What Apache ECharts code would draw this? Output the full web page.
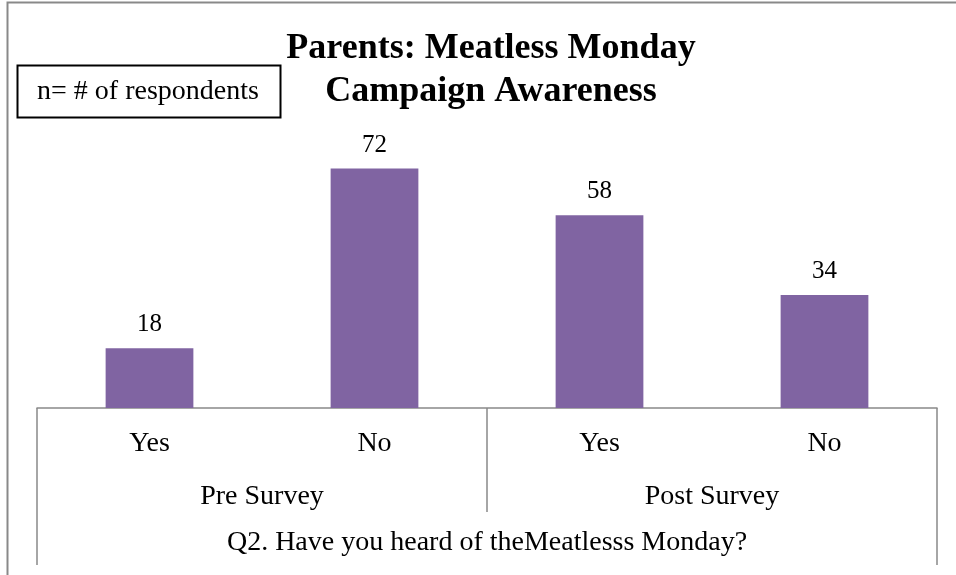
<!DOCTYPE html>
<html><head><meta charset="utf-8">
<script src="https://cdn.jsdelivr.net/npm/echarts@6/dist/echarts.min.js"></script>
<style>html,body{margin:0;padding:0;background:#fff}#c{width:956px;height:575px}</style>
</head><body><div id="c"></div>
<script>
const categories = ['Yes', 'No', 'Yes', 'No'];
const groups = ['Pre Survey', 'Post Survey'];
const values = [18, 72, 58, 34];
const axisTitle = ['Q2. Have you heard of theMeatlesss Monday?'];
const chartTitle = 'Parents: Meatless Monday\nCampaign Awareness';
const noteText = 'n= # of respondents';

const serif = '"Liberation Serif", "Times New Roman", serif';
const chart = echarts.init(document.getElementById('c'));
const grid = {left: 37, right: 19, top: 142, bottom: 167};
chart.setOption({
  animation: false,
  title: {text: chartTitle, left: 486, textAlign: 'center', top: 22,
    textStyle: {fontFamily: serif, fontSize: 36, fontWeight: 'bold', color: '#000', lineHeight: 43}},
  grid: grid,
  xAxis: [
    {type: 'category', data: categories, position: 'bottom',
     axisLine: {show: true, lineStyle: {color: '#898989', width: 1.5}},
     axisTick: {show: false},
     axisLabel: {fontFamily: serif, fontSize: 28, color: '#000', margin: 22}},
    {type: 'category', data: groups, position: 'bottom',
     axisLine: {show: false},
     axisTick: {show: true, length: 104, lineStyle: {color: '#898989', width: 1.5}},
     axisLabel: {fontFamily: serif, fontSize: 28, color: '#000', margin: 75}},
    {type: 'category', data: axisTitle, position: 'bottom',
     axisLine: {show: false},
     axisTick: {show: true, length: 157, lineStyle: {color: '#898989', width: 1.5}},
     axisLabel: {fontFamily: serif, fontSize: 28, color: '#000', margin: 121}}
  ],
  yAxis: {type: 'value', min: 0, max: 80, show: false, splitLine: {show: false}},
  series: [{
    type: 'bar', data: values, barWidth: '39%', xAxisIndex: 0,
    itemStyle: {color: '#8064A2'},
    label: {show: true, position: 'top', distance: 11, fontFamily: serif, fontSize: 25, color: '#000'}
  }],
  graphic: [
    {type: 'rect', shape: {x: 7.5, y: 2.5, width: 960, height: 600},
     style: {fill: 'none', stroke: '#898989', lineWidth: 2}, silent: true},
    {type: 'rect', shape: {x: 17.5, y: 65.5, width: 263, height: 52},
     style: {fill: '#fff', stroke: '#000', lineWidth: 2}, z: 10},
    {type: 'text', x: 148, y: 92, z: 11,
     style: {text: noteText, fontFamily: serif, fontSize: 28, fill: '#000', align: 'center', verticalAlign: 'middle'}}
  ]
});
</script></body></html>
